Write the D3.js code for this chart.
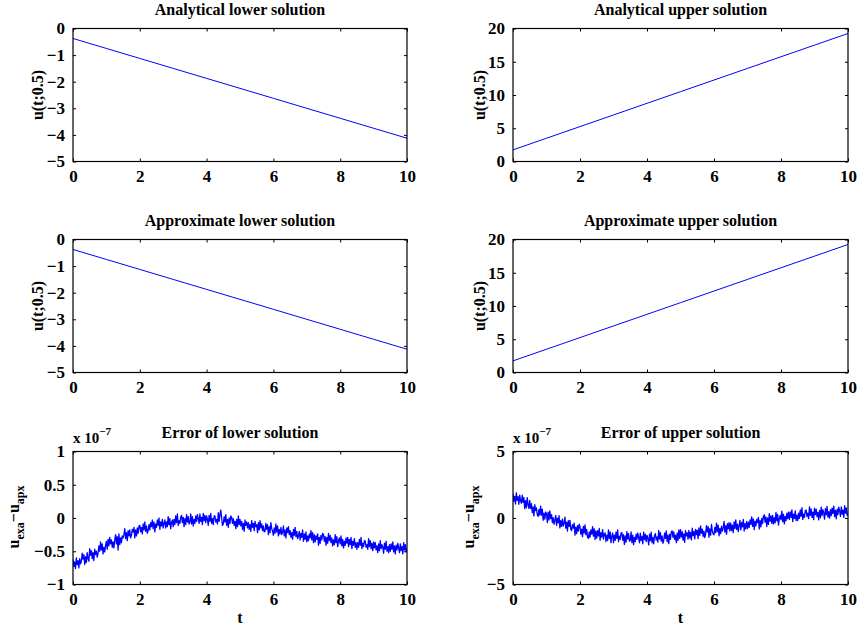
<!DOCTYPE html>
<html>
<head>
<meta charset="utf-8">
<script src="https://cdn.jsdelivr.net/npm/d3@7"></script>
<style>
  html, body { margin: 0; padding: 0; background: #fff; }
  svg { display: block; }
  text { font-family: "Liberation Serif", "Times New Roman", serif; font-weight: bold; fill: #000; }
</style>
</head>
<body>
<svg id="chart" width="857" height="626"></svg>
<script>
// ---------------- DATA ----------------
const tLine = [0, 1, 2, 3, 4, 5, 6, 7, 8, 9, 10];
const analyticLower = [-0.375, -0.75, -1.125, -1.5, -1.875, -2.25, -2.625, -3.0, -3.375, -3.75, -4.125];
const analyticUpper = [1.75, 3.5, 5.25, 7.0, 8.75, 10.5, 12.25, 14.0, 15.75, 17.5, 19.25];
const approxLower = [-0.375, -0.75, -1.125, -1.5, -1.875, -2.25, -2.625, -3.0, -3.375, -3.75, -4.125];
const approxUpper = [1.75, 3.5, 5.25, 7.0, 8.75, 10.5, 12.25, 14.0, 15.75, 17.5, 19.25];

const errorStep = 0.025; // t spacing of error samples (0 .. 10)
// error of lower solution, units of 1e-7
const errorLower = [
  -0.62, -0.73, -0.66, -0.76, -0.60, -0.70, -0.64, -0.75, -0.61, -0.69,
  -0.65, -0.53, -0.62, -0.55, -0.70, -0.58, -0.67, -0.52, -0.61, -0.65,
  -0.46, -0.56, -0.49, -0.61, -0.52, -0.64, -0.47, -0.55, -0.50, -0.59,
  -0.53, -0.42, -0.50, -0.36, -0.48, -0.39, -0.54, -0.44, -0.51, -0.41,
  -0.35, -0.47, -0.32, -0.42, -0.29, -0.39, -0.33, -0.44, -0.36, -0.45,
  -0.33, -0.25, -0.39, -0.28, -0.48, -0.24, -0.40, -0.30, -0.37, -0.27,
  -0.30, -0.25, -0.16, -0.31, -0.22, -0.34, -0.19, -0.27, -0.18, -0.30,
  -0.26, -0.17, -0.21, -0.14, -0.30, -0.18, -0.27, -0.15, -0.23, -0.12,
  -0.11, -0.21, -0.14, -0.24, -0.09, -0.18, -0.06, -0.20, -0.12, -0.23,
  -0.19, -0.10, -0.18, -0.07, -0.13, -0.03, -0.16, -0.06, -0.21, -0.09,
  -0.14, -0.03, -0.11, 0.00, -0.17, -0.06, -0.12, -0.02, -0.15, -0.08,
  -0.03, -0.15, -0.06, -0.13, 0.02, -0.10, -0.01, -0.16, -0.07, -0.03,
  -0.13, -0.02, -0.10, 0.03, -0.07, 0.06, -0.11, -0.04, -0.08, 0.01,
  0.04, -0.07, 0.01, -0.13, -0.01, -0.10, 0.05, -0.06, 0.02, -0.09,
  -0.06, 0.06, -0.09, 0.02, -0.12, -0.02, -0.08, 0.03, -0.05, 0.05,
  -0.01, -0.08, 0.06, -0.05, 0.01, -0.10, 0.07, -0.04, 0.04, -0.07,
  0.03, -0.02, -0.11, 0.04, -0.05, 0.07, -0.08, -0.01, -0.10, 0.03,
  0.03, -0.06, -0.02, -0.09, 0.08, -0.05, 0.05, 0.12, 0.00, -0.11,
  -0.09, 0.02, -0.06, 0.05, -0.11, -0.02, -0.14, 0.00, -0.08, 0.03,
  0.01, -0.08, -0.01, -0.11, -0.05, -0.16, -0.02, -0.13, 0.03, -0.10,
  -0.02, -0.12, -0.05, -0.17, -0.08, -0.20, -0.03, -0.11, -0.06, -0.15,
  -0.07, -0.17, -0.10, -0.20, -0.04, -0.14, -0.08, -0.19, -0.05, -0.13,
  -0.10, -0.22, -0.07, -0.18, -0.04, -0.15, -0.09, -0.19, -0.12, -0.21,
  -0.20, -0.08, -0.17, -0.10, -0.25, -0.13, -0.22, -0.07, -0.16, -0.20,
  -0.26, -0.15, -0.23, -0.09, -0.21, -0.12, -0.27, -0.17, -0.24, -0.14,
  -0.25, -0.21, -0.12, -0.27, -0.18, -0.30, -0.15, -0.22, -0.13, -0.25,
  -0.19, -0.29, -0.22, -0.32, -0.17, -0.26, -0.14, -0.28, -0.20, -0.31,
  -0.27, -0.20, -0.33, -0.23, -0.29, -0.18, -0.35, -0.24, -0.32, -0.21,
  -0.36, -0.27, -0.34, -0.24, -0.30, -0.19, -0.33, -0.22, -0.37, -0.25,
  -0.36, -0.27, -0.32, -0.24, -0.41, -0.29, -0.38, -0.26, -0.33, -0.23,
  -0.25, -0.35, -0.28, -0.41, -0.29, -0.38, -0.23, -0.34, -0.26, -0.37,
  -0.30, -0.42, -0.33, -0.40, -0.25, -0.37, -0.28, -0.43, -0.34, -0.30,
  -0.39, -0.27, -0.42, -0.32, -0.45, -0.35, -0.41, -0.30, -0.38, -0.29,
  -0.43, -0.32, -0.40, -0.29, -0.46, -0.35, -0.41, -0.31, -0.44, -0.37,
  -0.47, -0.37, -0.44, -0.32, -0.41, -0.29, -0.46, -0.38, -0.43, -0.34,
  -0.35, -0.44, -0.40, -0.47, -0.31, -0.43, -0.34, -0.46, -0.38, -0.49,
  -0.36, -0.45, -0.37, -0.48, -0.42, -0.52, -0.39, -0.49, -0.34, -0.46,
  -0.40, -0.44, -0.53, -0.38, -0.47, -0.35, -0.50, -0.43, -0.52, -0.40,
  -0.50, -0.39, -0.47, -0.36, -0.51, -0.42, -0.54, -0.41, -0.48, -0.38,
  -0.45, -0.52, -0.39, -0.49, -0.43, -0.54, -0.37, -0.48, -0.40, -0.51,
  -0.46
];
// error of upper solution, units of 1e-7
const errorUpper = [
  1.84, 1.26, 1.63, 1.05, 1.90, 1.32, 1.61, 1.03, 1.72, 1.30,
  1.11, 1.71, 1.18, 1.54, 0.70, 1.30, 0.77, 1.53, 1.01, 0.72,
  1.32, 0.72, 1.08, 0.40, 0.84, 0.16, 1.00, 0.56, 0.76, 0.24,
  0.12, 0.65, 0.21, 0.90, 0.22, 0.67, -0.17, 0.36, -0.08, 0.45,
  0.33, -0.34, 0.44, -0.15, 0.54, -0.05, 0.25, -0.34, 0.03, -0.47,
  -0.18, 0.19, -0.55, -0.02, -0.36, 0.17, -0.74, -0.20, -0.63, -0.09,
  -0.60, -0.39, 0.07, -0.76, -0.31, -0.98, -0.20, -0.63, -0.18, -0.84,
  -0.95, -0.50, -0.76, -0.39, -1.29, -0.68, -1.18, -0.57, -0.99, -0.46,
  -0.64, -1.22, -0.84, -1.41, -0.63, -1.13, -0.51, -1.25, -0.86, -1.44,
  -1.53, -1.05, -1.45, -0.89, -1.21, -0.65, -1.37, -0.81, -1.61, -0.97,
  -1.51, -0.95, -1.35, -0.79, -1.67, -1.11, -1.43, -0.87, -1.59, -1.19,
  -1.13, -1.77, -1.29, -1.69, -0.89, -1.53, -1.05, -1.85, -1.37, -1.13,
  -1.85, -1.29, -1.69, -1.05, -1.53, -0.89, -1.77, -1.37, -1.61, -1.13,
  -1.10, -1.66, -1.26, -1.98, -1.34, -1.82, -1.02, -1.58, -1.18, -1.74,
  -1.69, -1.05, -1.85, -1.29, -2.01, -1.45, -1.77, -1.21, -1.61, -1.13,
  -1.46, -1.86, -1.14, -1.70, -1.38, -1.94, -1.06, -1.62, -1.22, -1.78,
  -1.30, -1.54, -2.02, -1.22, -1.70, -1.06, -1.86, -1.46, -1.94, -1.30,
  -1.18, -1.66, -1.42, -1.82, -0.94, -1.58, -1.10, -1.74, -1.34, -1.90,
  -1.69, -1.13, -1.53, -0.97, -1.77, -1.29, -1.93, -1.21, -1.61, -1.05,
  -0.97, -1.45, -1.05, -1.61, -1.29, -1.85, -1.13, -1.69, -0.89, -1.53,
  -0.87, -1.43, -1.03, -1.67, -1.19, -1.83, -0.95, -1.35, -1.11, -1.59,
  -0.93, -1.49, -1.09, -1.65, -0.77, -1.33, -1.01, -1.57, -0.85, -1.25,
  -0.91, -1.55, -0.75, -1.31, -0.59, -1.15, -0.83, -1.39, -0.99, -1.47,
  -1.21, -0.57, -1.05, -0.65, -1.45, -0.81, -1.29, -0.49, -0.97, -1.21,
  -1.26, -0.70, -1.10, -0.38, -1.02, -0.54, -1.34, -0.78, -1.18, -0.62,
  -0.98, -0.74, -0.26, -1.06, -0.58, -1.22, -0.42, -0.82, -0.34, -0.98,
  -0.38, -0.94, -0.54, -1.10, -0.30, -0.78, -0.14, -0.86, -0.46, -1.02,
  -0.58, -0.18, -0.90, -0.34, -0.66, -0.10, -0.98, -0.42, -0.82, -0.26,
  -0.79, -0.31, -0.71, -0.15, -0.47, 0.09, -0.63, -0.07, -0.87, -0.23,
  -0.59, -0.11, -0.35, 0.05, -0.83, -0.19, -0.67, -0.03, -0.43, 0.13,
  0.24, -0.32, 0.08, -0.64, 0.00, -0.48, 0.32, -0.24, 0.16, -0.40,
  0.19, -0.45, 0.03, -0.37, 0.43, -0.21, 0.27, -0.53, -0.05, 0.19,
  -0.12, 0.52, -0.28, 0.28, -0.44, 0.12, -0.20, 0.36, -0.04, 0.44,
  -0.11, 0.45, 0.05, 0.61, -0.27, 0.29, -0.03, 0.53, -0.19, 0.21,
  -0.19, 0.37, -0.03, 0.61, 0.13, 0.77, -0.11, 0.29, 0.05, 0.53,
  0.60, 0.12, 0.36, -0.04, 0.84, 0.20, 0.68, 0.04, 0.44, -0.12,
  0.74, 0.26, 0.66, 0.10, 0.42, -0.14, 0.58, 0.02, 0.82, 0.18,
  0.63, 0.39, -0.09, 0.71, 0.23, 0.87, 0.07, 0.47, -0.01, 0.63,
  0.18, 0.74, 0.34, 0.90, 0.10, 0.58, -0.06, 0.66, 0.26, 0.82,
  0.52, 0.12, 0.84, 0.28, 0.60, 0.04, 0.92, 0.36, 0.76, 0.20,
  0.35
];

const xTicks = [0, 2, 4, 6, 8, 10];
const yTicksLower = [-5, -4, -3, -2, -1, 0];
const yTicksUpper = [0, 5, 10, 15, 20];
const yTicksErrLower = [-1, -0.5, 0, 0.5, 1];
const yTicksErrUpper = [-5, 0, 5];

const titles = ["Analytical lower solution", "Analytical upper solution",
                "Approximate lower solution", "Approximate upper solution",
                "Error of lower solution", "Error of upper solution"];

// ---------------- LAYOUT ----------------
const svg = d3.select("#chart");
svg.append("rect").attr("width", 857).attr("height", 626).attr("fill", "#fff");

const colX = [[73, 407], [513, 848]];
const rowTop = [28.5, 239.5, 451.5];
const axH = 133;

const tErr = errorLower.map((_, i) => i * errorStep);

const panels = [
  {r: 0, c: 0, x: tLine, y: analyticLower, dom: [-5, 0], ticks: yTicksLower, ylab: "u", ylx: 43},
  {r: 0, c: 1, x: tLine, y: analyticUpper, dom: [0, 20], ticks: yTicksUpper, ylab: "u", ylx: 485},
  {r: 1, c: 0, x: tLine, y: approxLower, dom: [-5, 0], ticks: yTicksLower, ylab: "u", ylx: 43},
  {r: 1, c: 1, x: tLine, y: approxUpper, dom: [0, 20], ticks: yTicksUpper, ylab: "u", ylx: 485},
  {r: 2, c: 0, x: tErr, y: errorLower, dom: [-1, 1], ticks: yTicksErrLower, ylab: "err", ylx: 19},
  {r: 2, c: 1, x: tErr, y: errorUpper, dom: [-5, 5], ticks: yTicksErrUpper, ylab: "err", ylx: 474}
];

const fmt = v => (v < 0 ? "\u2212" : "") + Math.abs(v);
const tickLen = 3;

panels.forEach((p, idx) => {
  const [x0, x1] = colX[p.c];
  const y0 = rowTop[p.r], y1 = y0 + axH;
  const xs = d3.scaleLinear().domain([0, 10]).range([x0, x1]);
  const ys = d3.scaleLinear().domain(p.dom).range([y1, y0]);
  const g = svg.append("g");

  const clipId = "clip" + idx;
  svg.append("clipPath").attr("id", clipId).append("rect")
    .attr("x", x0).attr("y", y0).attr("width", x1 - x0).attr("height", axH);

  const line = d3.line().x((d, i) => xs(p.x[i])).y(d => ys(d));
  g.append("path").datum(p.y)
    .attr("d", line)
    .attr("fill", "none")
    .attr("stroke", "#0000ff")
    .attr("stroke-width", p.r === 2 ? 1.3 : 1)
    .attr("stroke-linejoin", "round")
    .attr("clip-path", `url(#${clipId})`);

  const bottom = g.append("g").attr("transform", `translate(0,${y1})`)
    .call(d3.axisBottom(xs).tickValues(xTicks).tickSize(-tickLen).tickPadding(tickLen + 5).tickFormat(fmt));
  const top = g.append("g").attr("transform", `translate(0,${y0})`)
    .call(d3.axisTop(xs).tickValues(xTicks).tickSize(-tickLen).tickFormat(""));
  const left = g.append("g").attr("transform", `translate(${x0},0)`)
    .call(d3.axisLeft(ys).tickValues(p.ticks).tickSize(-tickLen).tickPadding(tickLen + 5).tickFormat(fmt));
  const right = g.append("g").attr("transform", `translate(${x1},0)`)
    .call(d3.axisRight(ys).tickValues(p.ticks).tickSize(-tickLen).tickFormat(""));

  [bottom, top, left, right].forEach(a => {
    a.selectAll(".domain").remove();
    a.selectAll(".tick line").attr("stroke", "#000").attr("stroke-width", 1);
    a.selectAll("text").attr("font-family", "Liberation Serif, Times New Roman, serif")
      .attr("font-weight", "bold").attr("font-size", 17).attr("fill", "#000");
  });
  bottom.selectAll(".tick text").attr("dy", "0.71em");

  g.append("rect").attr("x", x0).attr("y", y0).attr("width", x1 - x0).attr("height", axH)
    .attr("fill", "none").attr("stroke", "#000").attr("stroke-width", 1.2);

  g.append("text").attr("x", (x0 + x1) / 2).attr("y", y0 - 13.5)
    .attr("text-anchor", "middle").attr("font-size", 16).text(titles[idx]);

  const yc = p.r === 2 ? 517 : (y0 + y1) / 2;
  const yl = g.append("text")
    .attr("transform", `translate(${p.ylx},${yc}) rotate(-90)`)
    .attr("text-anchor", "middle").attr("font-size", 16);
  if (p.ylab === "u") {
    yl.text("u(t;0.5)");
  } else {
    yl.append("tspan").text("u");
    yl.append("tspan").attr("font-size", 12).attr("dy", 5).text("exa");
    yl.append("tspan").attr("dy", -5).text("\u2212u");
    yl.append("tspan").attr("font-size", 12).attr("dy", 5).text("apx");
  }

  if (p.r === 2) {
    const ex = g.append("text").attr("x", x0).attr("y", y0 - 9).attr("font-size", 15);
    ex.append("tspan").text("x 10");
    ex.append("tspan").attr("font-size", 11).attr("dy", -8).text("\u22127");
    g.append("text").attr("x", (x0 + x1) / 2).attr("y", 623)
      .attr("text-anchor", "middle").attr("font-size", 16).text("t");
  }
});
</script>
</body>
</html>
